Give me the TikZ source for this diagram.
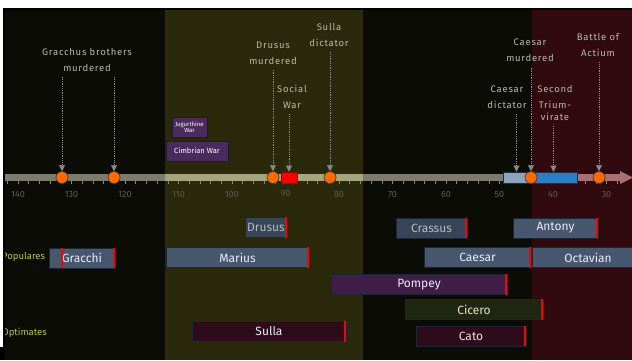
\documentclass[tikz,border=0pt]{standalone}
\usepackage{fontspec}
\setmainfont{Fira Sans}
\newfontfamily\annfont[LetterSpace=8]{Fira Sans}
\usetikzlibrary{arrows.meta,positioning}

\definecolor{bgdark}{HTML}{0B0C05}
\definecolor{bgolive}{HTML}{2A290B}
\definecolor{bgred}{HTML}{300A0E}
\definecolor{axgray}{HTML}{7C7C6E}
\definecolor{axolive}{HTML}{A7A57D}
\definecolor{axpink}{HTML}{A87070}
\definecolor{dictcol}{HTML}{8FA3BE}
\definecolor{triumcol}{HTML}{2B7DC6}
\definecolor{axline}{HTML}{1F2F45}
\definecolor{evtorange}{HTML}{FF6A00}
\definecolor{evtline}{HTML}{2B3347}
\definecolor{pincol}{HTML}{8A8A86}
\definecolor{anntext}{HTML}{B9B9AE}
\definecolor{yearcol}{HTML}{5C5C52}
\definecolor{steel}{HTML}{46576E}
\definecolor{steeldim}{HTML}{374656}
\definecolor{dimtext}{HTML}{B4BCC4}
\definecolor{purplebar}{HTML}{3F1D47}
\definecolor{olivebar}{HTML}{1F2612}
\definecolor{maroonbar}{HTML}{2D0B19}
\definecolor{barline}{HTML}{1B2636}
\definecolor{warpurple}{HTML}{4B2B5E}
\definecolor{warline}{HTML}{1C1C2E}
\definecolor{factcol}{HTML}{B2C84C}

\begin{document}
\begin{tikzpicture}[x=1pt,y=-1pt,>={Triangle[width=6pt,length=6pt,fill=pincol,line width=0.1pt]}]
        \tikzset{evt/.style={circle,draw=evtline,fill=evtorange,minimum size=12pt,inner sep=0pt,line width=0.6pt},
        axbox/.style={draw=axline,line width=0.6pt,minimum height=11pt,inner sep=0pt},
        ann/.style={align=center,text=anntext,font=\annfont\fontsize{9.5}{16}\selectfont},
        evtarrow/.style={draw=pincol,densely dotted,line width=0.8pt,->,shorten <=2pt},
        lifebar/.style={draw=barline,line width=0.6pt,minimum height=20pt,inner sep=0pt,text=white!92!blue,font=\fontsize{12}{14}\selectfont},
        deathmark/.style={draw=red,line width=2pt},
        warbox/.style={draw=warline,fill=warpurple,line width=0.8pt,minimum height=20pt,inner sep=0pt,align=center,text=white},
        faction/.style={text=factcol,inner sep=0pt,anchor=west,font=\fontsize{9.5}{10}\selectfont},
        yearlbl/.style={text=yearcol,font=\fontsize{9}{10}\selectfont},
        tickmark/.style={draw=axgray!90!white,line width=0.6pt}
        }

        \useasboundingbox (0,0) rectangle (632,360);
        \fill[white] (0,0) rectangle (632,360);
        \fill[black] (3,8) rectangle (632,360);
        \fill[black] (0,347) rectangle (3,360);

        \begin{scope}
        \clip (5,10) rectangle (632,360);
%%% eras
        \fill[bgdark] (5,10) rectangle (165,360);
        \fill[bgolive] (165,10) rectangle (363,360);
        \fill[bgdark] (363,10) rectangle (532,360);
        \fill[bgred] (532,10) rectangle (632,360);

%%% axis
        \fill[axgray] (5,174) rectangle (165,181);
        \fill[axolive] (165,174) rectangle (363,181);
        \fill[axgray] (363,174) rectangle (503,181);
        \fill[axpink] (577,174) rectangle (621,181);
        \fill[axpink] (620,171) -- (633,177.5) -- (620,184) -- cycle;
        \foreach \i in {-1,...,56}
            \draw[tickmark] ({18+\i*10.7},181) -- ++(0,3);
        \foreach \yr [count=\k from 0] in {140,130,...,30}
            \node[yearlbl] (yr_\yr) at ({18+\k*53.5},194) {\yr};

        \node[axbox,fill=dictcol,minimum width=27pt] (dict_span) at (516.5,177.5) {};
        \node[axbox,fill=triumcol,minimum width=47pt] (trium_span) at (553.5,177.5) {};
        \node[draw=red!60!black,fill=red,line width=0.6pt,minimum width=16pt,minimum height=11pt,inner sep=0pt] (social_war) at (289,177.5) {};

        \node[evt] (tib_evt) at (62,177.5) {};
        \node[evt] (gaius_evt) at (114,177.5) {};
        \node[evt] (drusus_evt) at (273,177.5) {};
        \node[evt] (sulla_evt) at (330,177.5) {};
        \node[evt] (caesar_evt) at (531,177.5) {};
        \node[evt] (actium_evt) at (599,177.5) {};

%%% events
        \node[ann] (gracchus_lbl) at (87,60) {Gracchus brothers\\murdered};
        \node[ann] (drusus_lbl) at (273,53) {Drusus\\murdered};
        \node[ann] (social_lbl) at (292,97) {Social\\War};
        \node[ann] (sulla_lbl) at (329,35) {Sulla\\dictator};
        \node[ann] (caesar_lbl) at (530,50.7) {Caesar\\murdered};
        \node[ann] (dict_lbl) at (507,97.5) {Caesar\\dictator};
        \node[ann] (trium_lbl) at (555,103) {Second\\Trium-\\[-4pt]virate};
        \node[ann] (actium_lbl) at (598,45.3) {Battle of\\Actium};

        \node[warbox,minimum width=35pt,font=\fontsize{6}{5.5}\selectfont] (jug_war) at (189.5,127) {Jugurthine\\War};
        \node[warbox,minimum width=62pt,font=\fontsize{7.5}{8}\selectfont] (cimb_war) at (197,151) {Cimbrian War};

%%% people
        \node[faction] (pop_lbl) at (2,257) {Populares};
        \node[faction] (opt_lbl) at (2,333) {Optimates};

        \node[lifebar,fill=steeldim,text=dimtext,minimum width=42pt] (drusus) at (266,227.5) {Drusus};
        \node[lifebar,fill=steeldim,text=dimtext,minimum width=71pt] (crassus) at (431.5,228) {Crassus};
        \node[lifebar,fill=steel,minimum width=85pt] (antony) at (555.5,228) {Antony};
        \node[lifebar,fill=steel,minimum width=66pt] (gracchi) at (82,258) {Gracchi};
        \node[lifebar,fill=steel,minimum width=143pt] (marius) at (237.5,257.5) {Marius};
        \node[lifebar,fill=steel,minimum width=107pt] (caesar) at (477.5,257.5) {Caesar};
        \node[lifebar,fill=steel,minimum width=112pt] (octavian) at (588,257.5) {Octavian};
        \node[lifebar,fill=purplebar,minimum width=176pt] (pompey) at (419,284.5) {Pompey};
        \node[lifebar,fill=olivebar,text=white!80!olive,minimum width=138pt] (cicero) at (474,309.5) {Cicero};
        \node[lifebar,fill=maroonbar,minimum width=154pt] (sulla) at (269,331.5) {Sulla};
        \node[lifebar,fill=maroonbar,text=white!85!red,minimum width=110pt] (cato) at (471,336) {Cato};

        \foreach \n in {drusus,crassus,antony,marius,caesar,pompey,cicero,sulla,cato}
            \draw[deathmark] ([xshift=-1pt]\n.north east) -- ([xshift=-1pt]\n.south east);
        \draw[deathmark] (gracchi.north -| tib_evt) -- (gracchi.south -| tib_evt);
        \draw[deathmark] (gracchi.north -| gaius_evt) -- (gracchi.south -| gaius_evt);

%%% paths
        \foreach \lbl/\tgt in {gracchus_lbl/tib_evt,gracchus_lbl/gaius_evt,drusus_lbl/drusus_evt,
                    social_lbl/social_war,sulla_lbl/sulla_evt,dict_lbl/dict_span,
                    caesar_lbl/caesar_evt,trium_lbl/trium_span,actium_lbl/actium_evt}
            \draw[evtarrow] (\lbl.south -| \tgt) -- (\tgt);
        \end{scope}
    \end{tikzpicture}
\end{document}
